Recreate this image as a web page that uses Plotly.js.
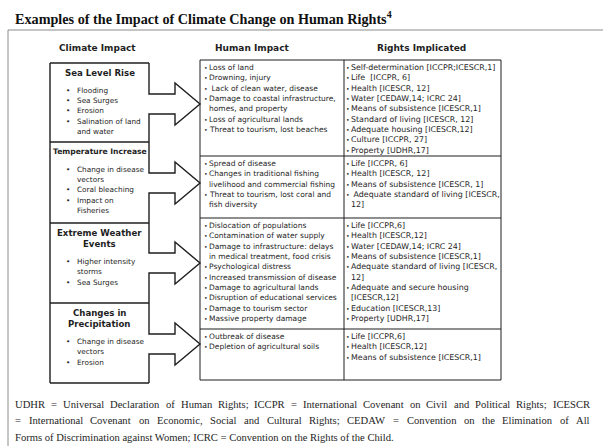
<!DOCTYPE html>
<html><head><meta charset="utf-8">
<script src="https://cdn.plot.ly/plotly-3.0.1.min.js"></script>
<style>html,body{margin:0;padding:0;background:#fff;}#chart{width:603px;height:446px;}</style>
</head><body><div id="chart"></div>
<script>
const titleText = "Examples of the Impact of Climate Change on Human Rights";
const titleNote = "4";
const columnHeaders = ["Climate Impact", "Human Impact", "Rights Implicated"];
const climateImpacts = [["Sea Level Rise"], ["Temperature Increase"], ["Extreme Weather", "Events"], ["Changes in", "Precipitation"]];
const climateEffects = [
  [["Flooding"], ["Sea Surges"], ["Erosion"], ["Salination of land", "and water"]],
  [["Change in disease", "vectors"], ["Coral bleaching"], ["Impact on", "Fisheries"]],
  [["Higher intensity", "storms"], ["Sea Surges"]],
  [["Change in disease", "vectors"], ["Erosion"]]
];
const humanImpacts = [
  [["Loss of land"], ["Drowning, injury"], ["\u00a0Lack of clean water, disease"], ["Damage to coastal infrastructure,", "homes, and property"], ["Loss of agricultural lands"], ["Threat to tourism, lost beaches"]],
  [["Spread of disease"], ["Changes in traditional fishing", "livelihood and commercial fishing"], ["Threat to tourism, lost coral and", "fish diversity"]],
  [["Dislocation of populations"], ["Contamination of water supply"], ["Damage to infrastructure: delays", "in medical treatment, food crisis"], ["Psychological distress"], ["Increased transmission of disease"], ["Damage to agricultural lands"], ["Disruption of educational services"], ["Damage to tourism sector"], ["Massive property damage"]],
  [["Outbreak of disease"], ["Depletion of agricultural soils"]]
];
const rightsImplicated = [
  [["Self-determination [ICCPR;ICESCR,1]"], ["Life\u00a0 [ICCPR, 6]"], ["Health [ICESCR, 12]"], ["Water [CEDAW,14; ICRC 24]"], ["Means of subsistence [ICESCR,1]"], ["Standard of living [ICESCR, 12]"], ["Adequate housing [ICESCR,12]"], ["Culture [ICCPR, 27]"], ["Property [UDHR,17]"]],
  [["Life [ICCPR, 6]"], ["Health [ICESCR, 12]"], ["Means of subsistence [ICESCR, 1]"], ["\u00a0Adequate standard of living [ICESCR,", "12]"]],
  [["Life [ICCPR,6]"], ["Health [ICESCR,12]"], ["Water [CEDAW,14; ICRC 24]"], ["Means of subsistence [ICESCR,1]"], ["Adequate standard of living [ICESCR,", "12]"], ["Adequate and secure housing", "[ICESCR,12]"], ["Education [ICESCR,13]"], ["Property [UDHR,17]"]],
  [["Life [ICCPR,6]"], ["Health [ICESCR,12]"], ["Means of subsistence [ICESCR,1]"]]
];
const captionLines = [
  "UDHR = Universal Declaration of Human Rights; ICCPR = International Covenant on Civil and Political Rights; ICESCR",
  "= International Covenant on Economic, Social and Cultural Rights; CEDAW = Convention on the Elimination of All",
  "Forms of Discrimination against Women; ICRC = Convention on the Rights of the Child."
];

// ---- layout geometry ----
const W = 603, H = 446;
const INK = "#1e1e1e";
const SANS = "DejaVu Sans";
const SERIF = "Liberation Serif";
const humanFS = 7.5, rightsFS = 7.9, boxFS = 7.3;
const LS = 10.35;
const boxX0 = 50, boxX1 = 149;
const boxDiv = [63, 142, 223, 303, 383];
const arrowC = [104, 183, 263, 344];
const tX0 = 200, tXm = 344, tX1 = 501;
const rowDiv = [60, 156, 218, 329, 380];

const ann = [];
const shapes = [];
function txt(x, y, t, size, fam, opt) {
  opt = opt || {};
  ann.push({
    x: x, y: y, xref: "x", yref: "y", text: t, showarrow: false,
    xanchor: opt.anchor || "left", yanchor: "middle", borderpad: 0, borderwidth: 0,
    font: {family: fam, size: size, color: opt.color || INK, weight: opt.weight || "normal"}
  });
}
function line(x0, y0, x1, y1, w, c) {
  shapes.push({type: "line", xref: "x", yref: "y", x0: x0, y0: y0, x1: x1, y1: y1,
    line: {color: c || INK, width: w || 1}});
}

// title
txt(15, 18, titleText + "<sup>" + titleNote + "</sup>", 14.2, SERIF, {weight: "bold", color: "#111"});
// outer frame
line(8, 30, 8, H + 2, 1, "#8c8c8c");
line(8, 30, W + 2, 30, 1, "#8c8c8c");

// column headers
const headX = [97, 252, 421];
columnHeaders.forEach((h, i) => txt(headX[i], 48, h, 9, SANS, {anchor: "center", weight: "bold"}));

// left boxes
line(boxX0, boxDiv[0], boxX0, boxDiv[4], 1.4);
boxDiv.forEach(y => line(boxX0, y, boxX1, y, 1.4));
let p = "M" + boxX1 + "," + boxDiv[0];
arrowC.forEach(c => {
  p += " L" + boxX1 + "," + (c - 10) + " L175," + (c - 10) + " L175," + (c - 21) +
       " L" + tX0 + "," + c + " L175," + (c + 21) + " L175," + (c + 10) + " L" + boxX1 + "," + (c + 10);
});
p += " L" + boxX1 + "," + boxDiv[4];
shapes.push({type: "path", xref: "x", yref: "y", path: p, line: {color: INK, width: 1.4}});

climateImpacts.forEach((hd, i) => {
  let y = boxDiv[i] + 9.5;
  const fs = hd[0].length > 15 ? 7.6 : 8.6;
  hd.forEach((l, j) => { txt(99.5, y, l, fs, SANS, {anchor: "center", weight: "bold"}); if (j < hd.length - 1) y += 11.5; });
  y += 17.5;
  climateEffects[i].forEach(item => {
    txt(66, y, "\u2022", boxFS, SANS);
    item.forEach(l => { txt(77, y, l, boxFS, SANS); y += LS; });
  });
});

// table
shapes.push({type: "rect", xref: "x", yref: "y", x0: tX0, x1: tX1, y0: rowDiv[0], y1: rowDiv[4], line: {color: INK, width: 1}});
line(tXm, rowDiv[0], tXm, rowDiv[4], 1);
rowDiv.slice(1, 4).forEach(y => line(tX0, y, tX1, y, 1.2));

function cell(items, top, bx, tx, fs) {
  let y = top + 7.5;
  items.forEach(item => {
    txt(bx, y, "\u2022", 6, SANS);
    item.forEach(l => { txt(tx, y, l, fs, SANS); y += LS; });
  });
}
humanImpacts.forEach((items, i) => cell(items, rowDiv[i], 203.5, 208.5, humanFS));
rightsImplicated.forEach((items, i) => cell(items, rowDiv[i], 346, 351, rightsFS));

// caption (justified)
const capFS = 10.6;
const cv = document.createElement("canvas").getContext("2d");
cv.font = capFS + "px '" + SERIF + "'";
const capY = [404, 420.5, 437];
const cx0 = 15, cx1 = 590;
captionLines.forEach((l, i) => {
  if (i < captionLines.length - 1) {
    const words = l.split(" ");
    const ws = words.map(w => cv.measureText(w).width);
    const tot = ws.reduce((a, b) => a + b, 0);
    const gap = (cx1 - cx0 - tot) / (words.length - 1);
    let x = cx0;
    words.forEach((w, k) => { txt(x, capY[i], w, capFS, SERIF); x += ws[k] + gap; });
  } else {
    txt(cx0, capY[i], l, capFS, SERIF);
  }
});

Plotly.newPlot("chart", [{x: [], y: [], type: "scatter", mode: "markers", hoverinfo: "skip"}], {
  width: W, height: H, margin: {l: 0, r: 0, t: 0, b: 0},
  paper_bgcolor: "#fff", plot_bgcolor: "#fff", showlegend: false,
  xaxis: {range: [0, W], visible: false, fixedrange: true},
  yaxis: {range: [H, 0], visible: false, fixedrange: true},
  shapes: shapes, annotations: ann
}, {displayModeBar: false, staticPlot: true});
</script></body></html>
